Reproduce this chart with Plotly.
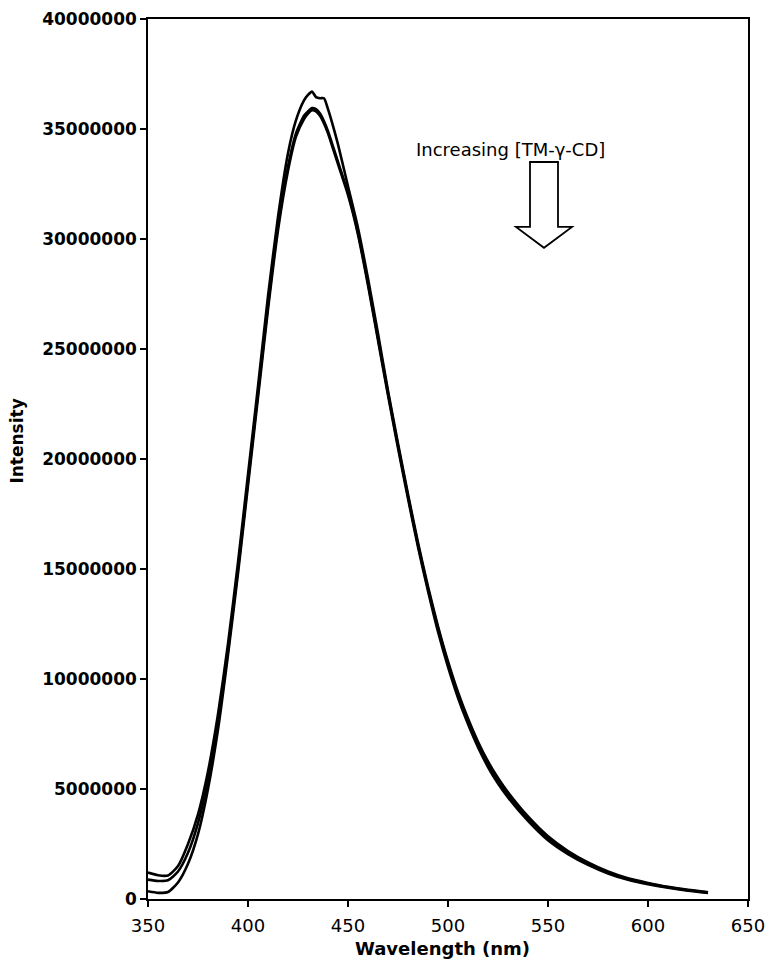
import plotly.graph_objects as go

# Wavelength grid (nm)
wavelength = [350, 355, 360, 365, 370, 375, 380, 385, 390, 395, 400, 405, 410, 415,
              420, 424, 428, 430, 432, 434, 436, 438, 440, 442, 445, 450, 455, 460,
              465, 470, 475, 480, 485, 490, 495, 500, 505, 510, 515, 520, 525, 530,
              540, 550, 560, 570, 580, 590, 600, 610, 620, 630]

# Intensity series (millions)
series_low_conc = [1.20, 1.08, 1.07, 1.50, 2.50, 3.85, 5.80, 8.40, 11.60, 15.30, 19.30, 23.30,
                   27.40, 31.00, 33.90, 35.40, 36.30, 36.55, 36.70, 36.45, 36.40, 36.40,
                   35.90, 35.30, 34.30, 32.40, 30.50, 28.20, 25.70, 23.10, 20.70, 18.40,
                   16.20, 14.20, 12.40, 10.80, 9.40, 8.20, 7.15, 6.25, 5.50, 4.85,
                   3.75, 2.85, 2.18, 1.66, 1.25, 0.94, 0.73, 0.55, 0.42, 0.31]
series_mid_conc = [0.88, 0.82, 0.85, 1.25, 2.10, 3.45, 5.40, 8.00, 11.30, 15.00, 19.00, 23.00,
                   27.00, 30.60, 33.30, 34.80, 35.60, 35.80, 35.95, 35.90, 35.70, 35.35,
                   34.90, 34.35, 33.50, 32.10, 30.30, 28.00, 25.50, 23.00, 20.60, 18.30,
                   16.10, 14.10, 12.30, 10.70, 9.30, 8.10, 7.05, 6.15, 5.40, 4.75,
                   3.65, 2.75, 2.10, 1.60, 1.20, 0.90, 0.70, 0.53, 0.40, 0.30]
series_high_conc = [0.35, 0.28, 0.32, 0.75, 1.60, 2.95, 5.00, 7.70, 11.10, 14.80, 18.80, 22.80,
                    26.80, 30.40, 33.10, 34.65, 35.45, 35.70, 35.85, 35.80, 35.60, 35.25,
                    34.80, 34.25, 33.40, 32.00, 30.20, 27.90, 25.40, 22.90, 20.50, 18.20,
                    16.00, 14.00, 12.15, 10.55, 9.15, 7.95, 6.90, 6.00, 5.25, 4.62,
                    3.55, 2.67, 2.04, 1.55, 1.16, 0.87, 0.67, 0.51, 0.38, 0.28]

x_ticks = [350, 400, 450, 500, 550, 600, 650]
y_ticks = [0, 5000000, 10000000, 15000000, 20000000, 25000000, 30000000, 35000000, 40000000]
y_tick_labels = [str(v) for v in y_ticks]

fig = go.Figure()
for s in (series_low_conc, series_mid_conc, series_high_conc):
    fig.add_trace(go.Scatter(
        x=wavelength, y=[v * 1e6 for v in s], mode="lines",
        line=dict(color="black", width=2.6, shape="spline", smoothing=0.6),
        showlegend=False, hoverinfo="skip"))

# hollow block arrow (annotation decoration)
arrow_path = ("M 541 33500000 L 555 33500000 L 555 30550000 L 562 30550000 "
              "L 548 29600000 L 534 30550000 L 541 30550000 Z")
fig.add_shape(type="path", path=arrow_path, xref="x", yref="y",
              line=dict(color="black", width=1.8), fillcolor="white")

fig.add_annotation(text="Increasing [TM-γ-CD]", x=531, y=34050000, xref="x", yref="y",
                   showarrow=False, font=dict(family="DejaVu Sans", size=18, color="black"),
                   xanchor="center", yanchor="middle")
fig.add_annotation(text="<b>Wavelength (nm)</b>", x=0.49, y=-0.0557, xref="paper", yref="paper",
                   showarrow=False, font=dict(family="DejaVu Sans", size=18, color="black"),
                   xanchor="center", yanchor="middle")
fig.add_annotation(text="<b>Intensity</b>", x=-0.218, y=0.52, xref="paper", yref="paper",
                   showarrow=False, textangle=-90,
                   font=dict(family="DejaVu Sans", size=17, color="black"),
                   xanchor="center", yanchor="middle")

fig.update_layout(
    width=766, height=973,
    margin=dict(l=148, r=18, t=19, b=74, autoexpand=False),
    paper_bgcolor="white", plot_bgcolor="white",
    font=dict(family="DejaVu Sans", color="black"),
    xaxis=dict(range=[350, 650], tickvals=x_ticks, ticks="outside", ticklen=6,
               tickwidth=1.5, tickcolor="black", showline=True, linecolor="black",
               linewidth=1.5, mirror=True, showgrid=False, zeroline=False,
               automargin=False,
               tickfont=dict(family="DejaVu Sans", size=18, color="black"),
               ticklabelstandoff=4),
    yaxis=dict(range=[0, 40000000], tickvals=y_ticks,
               ticktext=["<b>%s</b>" % t for t in y_tick_labels],
               ticks="outside", ticklen=6, tickwidth=1.5, tickcolor="black",
               showline=True, linecolor="black", linewidth=1.5, mirror=True,
               showgrid=False, zeroline=False, automargin=False,
               tickfont=dict(family="DejaVu Sans", size=17, color="black")),
)

fig.write_html("out.html")
